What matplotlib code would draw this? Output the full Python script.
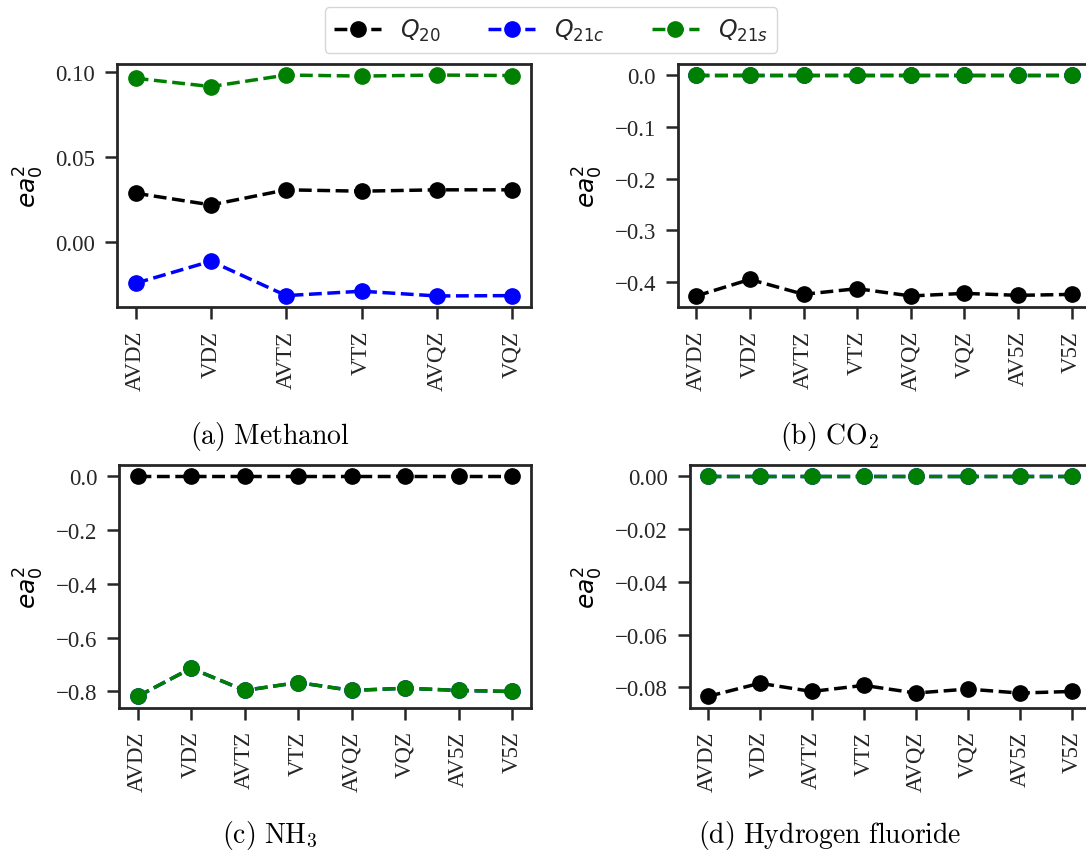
import matplotlib
matplotlib.use("Agg")
import matplotlib.pyplot as plt
from matplotlib.ticker import MultipleLocator

# basis sets
basis_6 = ["AVDZ", "VDZ", "AVTZ", "VTZ", "AVQZ", "VQZ"]
basis_8 = ["AVDZ", "VDZ", "AVTZ", "VTZ", "AVQZ", "VQZ", "AV5Z", "V5Z"]

# (a) Methanol
methanol_q20 = [0.0287, 0.0218, 0.0307, 0.0299, 0.0307, 0.0307]
methanol_q21c = [-0.0244, -0.0114, -0.0317, -0.0291, -0.0319, -0.0317]
methanol_q21s = [0.0965, 0.0916, 0.0984, 0.0978, 0.0984, 0.0981]

# (b) CO2
co2_q20 = [-0.427, -0.395, -0.4238, -0.4129, -0.427, -0.422, -0.4258, -0.424]
co2_q21c = [0.0, 0.0, 0.0, 0.0, 0.0, 0.0, 0.0, 0.0]
co2_q21s = [0.0, 0.0, 0.0, 0.0, 0.0, 0.0, 0.0, 0.0]

# (c) NH3
nh3_q20 = [0.0, 0.0, 0.0, 0.0, 0.0, 0.0, 0.0, 0.0]
nh3_q21c = [-0.8185, -0.7137, -0.796, -0.7667, -0.796, -0.788, -0.796, -0.800]
nh3_q21s = [-0.8185, -0.7137, -0.796, -0.7667, -0.796, -0.788, -0.796, -0.800]

# (d) Hydrogen fluoride
hf_q20 = [-0.0834, -0.0784, -0.0815, -0.0792, -0.0821, -0.0806, -0.0821, -0.0815]
hf_q21c = [0.0, 0.0, 0.0, 0.0, 0.0, 0.0, 0.0, 0.0]
hf_q21s = [0.0, 0.0, 0.0, 0.0, 0.0, 0.0, 0.0, 0.0]

captions = [r"$\mathrm{(a)\ Methanol}$", r"$\mathrm{(b)\ CO_2}$",
            r"$\mathrm{(c)\ NH_3}$", r"$\mathrm{(d)\ Hydrogen\ fluoride}$"]

plt.rcParams["font.family"] = ["Liberation Serif", "DejaVu Serif"]
plt.rcParams["axes.edgecolor"] = "0.15"
plt.rcParams["axes.linewidth"] = 2.0
plt.rcParams["text.color"] = "0.15"
plt.rcParams["xtick.color"] = "0.15"
plt.rcParams["ytick.color"] = "0.15"
plt.rcParams["xtick.labelsize"] = 16.5
plt.rcParams["ytick.labelsize"] = 16.5

fig = plt.figure(figsize=(10.86, 8.54), dpi=100)
W, H = 1086.0, 854.0

def px_axes(left, right, top, bottom):
    return fig.add_axes([left / W, 1 - bottom / H, (right - left) / W, (bottom - top) / H])

panels = [
    (px_axes(116.8, 531, 65, 308), basis_6, methanol_q20, methanol_q21c, methanol_q21s, 0.05),
    (px_axes(677.5, 1090.5, 65, 308), basis_8, co2_q20, co2_q21c, co2_q21s, 0.1),
    (px_axes(118.8, 531, 466, 708.5), basis_8, nh3_q20, nh3_q21c, nh3_q21s, 0.2),
    (px_axes(689.5, 1090, 466, 708.5), basis_8, hf_q20, hf_q21c, hf_q21s, 0.02),
]

style = dict(ls="--", marker="o", lw=2.5, ms=11)
for ax, basis, q20, q21c, q21s, step in panels:
    ax.plot(basis, q20, color="black", label=r"$Q_{20}$", **style)
    ax.plot(basis, q21c, color="blue", label=r"$Q_{21c}$", **style)
    ax.plot(basis, q21s, color="green", label=r"$Q_{21s}$", **style)
    ax.yaxis.set_major_locator(MultipleLocator(step))
    ax.tick_params(axis="both", direction="out", length=8.5, width=1.8)
    ax.tick_params(axis="y", pad=7)
    ax.tick_params(axis="x", labelrotation=90, pad=8)
    ax.set_ylabel(r"$ea_0^2$", fontsize=18, labelpad=7)

# sub-captions
cap_pos = [(270, 437), (829.6, 437), (270, 836), (829.6, 836)]
for text, (cx, cy) in zip(captions, cap_pos):
    fig.text(cx / W, 1 - cy / H, text, ha="center", va="center",
             fontsize=20, math_fontfamily="cm", color="black")

handles, labels = panels[0][0].get_legend_handles_labels()
fig.legend(handles, labels, loc="center", bbox_to_anchor=(551 / W, 1 - 31 / H),
           ncol=3, fontsize=17, frameon=True)

fig.savefig("out.png", dpi=100)
